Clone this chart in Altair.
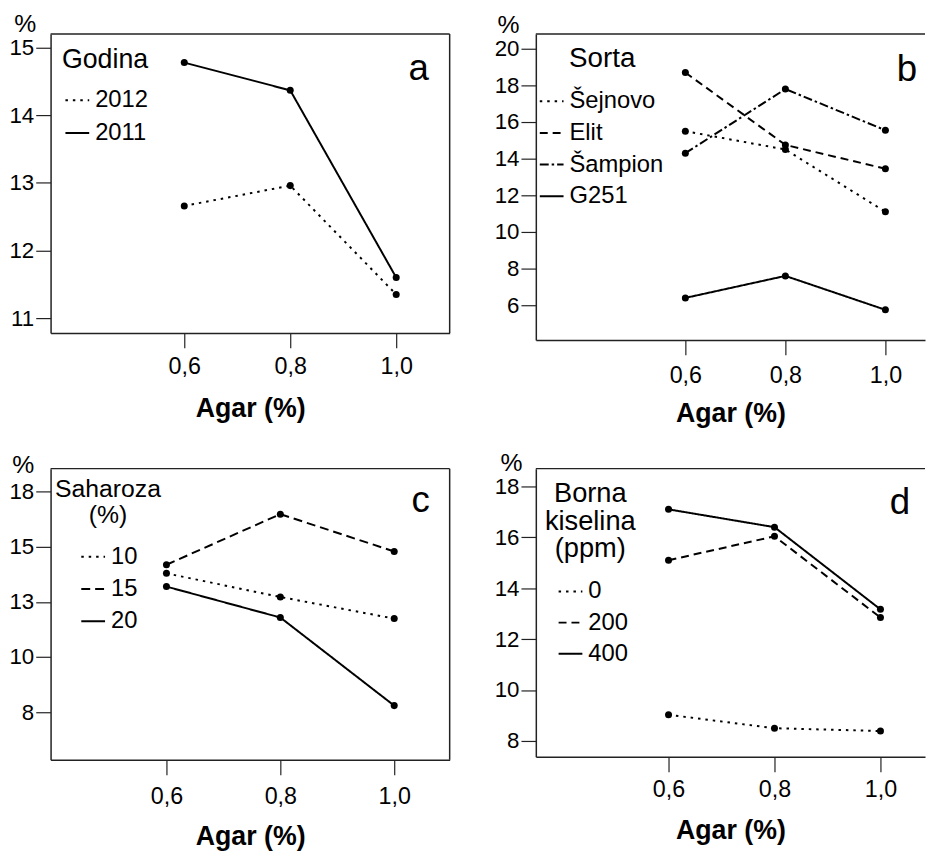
import altair as alt
import pandas as pd

FONT = "Liberation Sans"

# ---------------- data ----------------
agar = [0.6, 0.8, 1.0]
x_tick_labels = ["0,6", "0,8", "1,0"]

# panel a
a_series = ["2012", "2011"]
a_2012 = [12.66, 12.96, 11.35]
a_2011 = [14.78, 14.37, 11.60]
a_yticks = [11, 12, 13, 14, 15]
a_ylabels = ["11", "12", "13", "14", "15"]

# panel b
b_series = ["Šejnovo", "Elit", "Šampion", "G251"]
b_sejnovo = [15.5, 14.5, 11.1]
b_elit = [18.7, 14.75, 13.45]
b_sampion = [14.3, 17.8, 15.55]
b_g251 = [6.4, 7.6, 5.75]
b_yticks = [6, 8, 10, 12, 14, 16, 18, 20]
b_ylabels = ["6", "8", "10", "12", "14", "16", "18", "20"]

# panel c
c_series = ["10", "15", "20"]
c_10 = [13.79, 12.72, 11.74]
c_15 = [14.18, 16.47, 14.78]
c_20 = [13.19, 11.79, 7.8]
c_yticks = [7.5, 10, 12.5, 15, 17.5]
c_ylabels = ["8", "10", "13", "15", "18"]

# panel d
d_series = ["0", "200", "400"]
d_0 = [9.03, 8.5, 8.39]
d_200 = [15.1, 16.04, 12.85]
d_400 = [17.1, 16.4, 13.17]
d_yticks = [8, 10, 12, 14, 16, 18]
d_ylabels = ["8", "10", "12", "14", "16", "18"]

DOT = [2.5, 5]
DASH = [8, 5]
DASHDOT = [9, 3, 2.5, 3]
SOLID = [1, 0]


def label_expr(values, labels):
    parts = [f"abs(datum.value - {v}) < 1e-6 ? '{l}'" for v, l in zip(values, labels)]
    return " : ".join(parts) + " : ''"


def panel(names, values, dashes, xdom, ydom, yticks, ylabels, W, H,
          pct_x, pct_y, xlab_pad, xtitle_y,
          leg_x, leg_y, leg_row, title_text, title_x, title_y, title_size, title_lh,
          letter, letter_x, letter_y, right_frame):
    rows = []
    for n, vals in zip(names, values):
        for xv, v in zip(agar, vals):
            rows.append({"agar": xv, "value": v, "series": n})
    df = pd.DataFrame(rows)

    xenc = alt.X("agar:Q", scale=alt.Scale(domain=xdom, nice=False, zero=False),
                 axis=alt.Axis(values=agar, labelExpr=label_expr(agar, x_tick_labels),
                               title="Agar (%)", titleFontWeight="bold", titleFontSize=27,
                               titleY=xtitle_y, titleBaseline="alphabetic",
                               labelBaseline="alphabetic", labelPadding=xlab_pad,
                               labelFontSize=23.5, labelFlush=False, labelOverlap=False))
    yenc = alt.Y("value:Q", scale=alt.Scale(domain=ydom, nice=False, zero=False),
                 axis=alt.Axis(values=yticks, labelExpr=label_expr(yticks, ylabels),
                               title="%", titleAngle=0, titleX=pct_x, titleY=pct_y,
                               titleAlign="center", titleBaseline="alphabetic",
                               titleFontSize=25, titleFontWeight="normal",
                               labelPadding=2, labelFontSize=22.5, labelFlush=False,
                               labelOverlap=False))

    lines = alt.Chart(df).mark_line(color="black", strokeWidth=2).encode(
        x=xenc, y=yenc,
        strokeDash=alt.StrokeDash(
            "series:N", sort=names,
            scale=alt.Scale(domain=names, range=dashes),
            legend=alt.Legend(title=None, orient="none", legendX=leg_x, legendY=leg_y,
                              rowPadding=leg_row)))
    points = alt.Chart(df).mark_circle(color="black", size=50, opacity=1).encode(
        x="agar:Q", y="value:Q")

    ttl = alt.Chart(pd.DataFrame({"t": [title_text]})).mark_text(
        align="center", baseline="alphabetic", fontSize=title_size, font=FONT,
        lineBreak="\n", lineHeight=title_lh, color="black").encode(
        text="t:N", x=alt.value(title_x), y=alt.value(title_y))

    let = alt.Chart(pd.DataFrame({"t": [letter]})).mark_text(
        align="right", baseline="alphabetic", fontSize=37, font=FONT, color="black").encode(
        text="t:N", x=alt.value(letter_x), y=alt.value(letter_y))

    one = pd.DataFrame({"k": [0]})
    top = alt.Chart(one).mark_rule(color="#222", strokeWidth=1.5).encode(
        x=alt.value(0), x2=alt.value(W), y=alt.value(0))
    layers = [lines, points, ttl, let, top]
    if right_frame:
        right = alt.Chart(one).mark_rule(color="#222", strokeWidth=1.5).encode(
            x=alt.value(W), y=alt.value(0), y2=alt.value(H))
        layers.append(right)
    return alt.layer(*layers).properties(width=W, height=H)


W1, W2 = 403, 393

pa = panel(a_series, [a_2012, a_2011], [DOT, SOLID],
           [0.3477, 1.1009], [10.78, 15.205], a_yticks, a_ylabels, W1, 302,
           -26, -2, 26, 84,
           14, 54, 8, "Godina", 55, 34, 27, 28,
           "a", 382, 47, True)

pb = panel(b_series, [b_sejnovo, b_elit, b_sampion, b_g251], [DOT, DASH, DASHDOT, SOLID],
           [0.301, 1.0792], [4.108, 20.81], b_yticks, b_ylabels, W2, 309,
           -28, -1, 28, 82,
           3, 55, 7, "Sorta", 67, 33, 28, 28,
           "b", 385, 48, False)

pc = panel(c_series, [c_10, c_15, c_20], [DOT, [9, 5], SOLID],
           [0.3965, 1.0974], [5.348, 18.531], c_yticks, c_ylabels, W1, 294,
           -28, 4, 29, 86,
           30, 76, 7.5, "Saharoza\n(%)", 58, 29, 25, 26,
           "c", 383, 44, True)

pd_ = panel(d_series, [d_0, d_200, d_400], [DOT, DASH, SOLID],
            [0.3495, 1.0841], [7.377, 18.70], d_yticks, d_ylabels, W2, 291,
            -25, 2, 25, 82,
            22, 111, 6.5, "Borna\nkiselina\n(ppm)", 55, 34, 27.5, 27.5,
            "d", 378, 46, False)

chart = alt.concat(pa, pb, pc, pd_, columns=2,
                   spacing={"row": 130, "column": 87}, bounds="flush").resolve_scale(
    strokeDash="independent").resolve_legend(strokeDash="independent").properties(
    padding={"left": 0, "top": 0, "right": 0, "bottom": 0}
).configure_view(stroke=None).configure_axis(
    domainColor="#222", domainWidth=1.5, tickColor="#222", tickSize=15, tickWidth=1.2,
    labelFont=FONT, titleFont=FONT, labelColor="black", titleColor="black", grid=False
).configure_legend(
    labelFont=FONT, labelFontSize=24, labelColor="black", symbolType="stroke",
    symbolSize=576, symbolStrokeWidth=2, symbolStrokeColor="black", labelOffset=5,
    padding=0
)

chart.save("out.html", embed_options={"renderer": "svg", "actions": False})
